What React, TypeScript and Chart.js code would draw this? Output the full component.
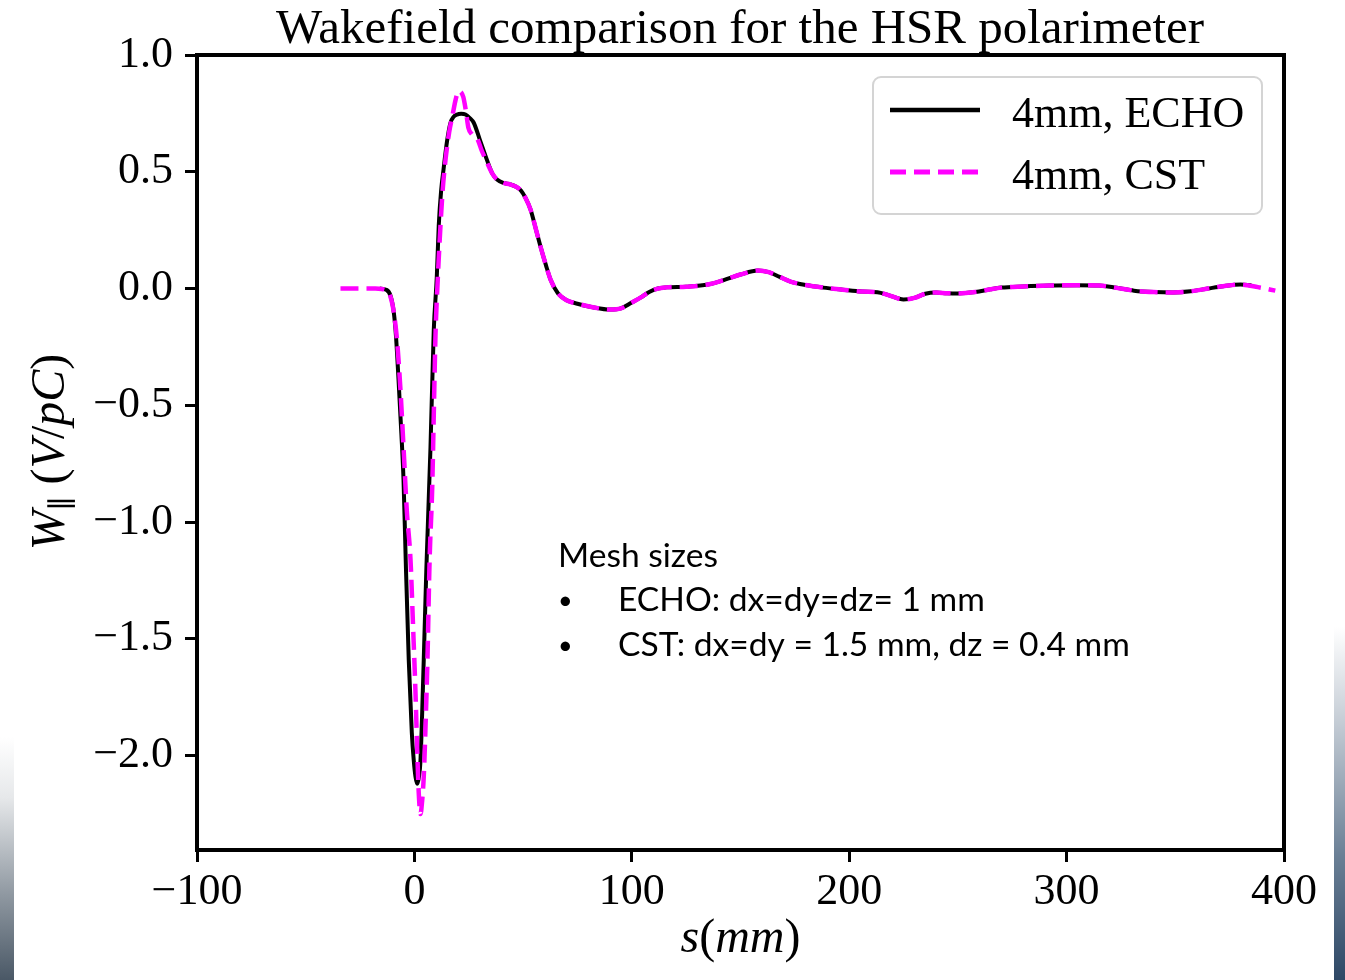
import React, { useEffect, useRef } from "react";
import { Chart, registerables } from "chart.js";

Chart.register(...registerables);

const TITLE = "Wakefield comparison for the HSR polarimeter";
const X_TICKS = [-100, 0, 100, 200, 300, 400];
const Y_TICKS = [1.0, 0.5, 0.0, -0.5, -1.0, -1.5, -2.0];
const LEGEND_LABELS = ["4mm, ECHO", "4mm, CST"];
const NOTE_LINES = ["Mesh sizes", "ECHO: dx=dy=dz= 1 mm", "CST: dx=dy = 1.5 mm, dz = 0.4 mm"];

const ECHO_S = [-16, -13, -11, -9.5, -8.5, -7.3, -6, -5, -4, -2.6, -1.2, -0.3, 0.5, 1.3, 2.1, 2.8, 4.3, 5.5, 7.4, 8.9, 10.3, 11.2, 12.3, 13.4, 15, 16.6, 18, 19.6, 21.5, 23.5, 25.5, 27.3, 30, 33.4, 36, 38, 41, 44, 47, 49, 51, 53.4, 56, 58, 60.5, 62.6, 66, 70, 75, 82, 90, 95, 100, 104, 108, 112, 116, 125, 135, 142, 150, 158, 163, 168, 173, 180, 188, 197, 206, 213, 218, 225, 230, 235, 240, 245, 250, 258, 265, 270, 280, 292, 305, 315, 323, 331, 340, 349, 357, 365, 372, 380, 385];
const ECHO_W = [0, -0.005, -0.03, -0.1, -0.2, -0.39, -0.62, -0.82, -1.16, -1.59, -1.9, -2.02, -2.09, -2.12, -2.09, -2.02, -1.59, -1.2, -0.68, -0.18, 0.05, 0.27, 0.42, 0.51, 0.63, 0.71, 0.735, 0.745, 0.748, 0.745, 0.73, 0.71, 0.64, 0.55, 0.49, 0.467, 0.452, 0.446, 0.435, 0.42, 0.39, 0.339, 0.25, 0.18, 0.1, 0.039, -0.02, -0.05, -0.065, -0.08, -0.09, -0.085, -0.06, -0.039, -0.015, 0.0, 0.005, 0.008, 0.017, 0.035, 0.06, 0.077, 0.07, 0.05, 0.03, 0.015, 0.004, -0.005, -0.013, -0.016, -0.028, -0.047, -0.04, -0.022, -0.017, -0.02, -0.021, -0.015, -0.003, 0.004, 0.009, 0.013, 0.014, 0.013, 0.003, -0.009, -0.015, -0.017, -0.012, 0.0, 0.01, 0.017, 0.014];

const CST_S = [-34, -25, -18, -15, -13, -11, -9.5, -8, -6.5, -5, -3.5, -1.8, -0.6, 0.5, 1.3, 2, 2.8, 3.5, 4.3, 5.2, 6, 7, 8.2, 9, 9.7, 10.8, 12, 13, 14.3, 16, 17.5, 19, 20.3, 21.5, 22.5, 23.7, 24.8, 26.5, 29, 31, 33.4, 36, 38, 41, 44, 47, 49, 51, 53.4, 56, 58, 60.5, 62.6, 66, 70, 75, 82, 90, 95, 100, 104, 108, 112, 116, 125, 135, 142, 150, 158, 163, 168, 173, 180, 188, 197, 206, 213, 218, 225, 230, 235, 240, 245, 250, 258, 265, 270, 280, 292, 305, 315, 323, 331, 340, 349, 357, 365, 372, 380, 388, 396];
const CST_W = [0, 0, 0, -0.002, -0.008, -0.035, -0.1, -0.22, -0.42, -0.68, -0.95, -1.16, -1.45, -1.73, -1.98, -2.16, -2.25, -2.2, -2.09, -1.85, -1.59, -1.16, -0.85, -0.5, -0.2, 0.05, 0.27, 0.42, 0.55, 0.67, 0.74, 0.81, 0.845, 0.84, 0.82, 0.76, 0.69, 0.66, 0.64, 0.59, 0.54, 0.49, 0.467, 0.452, 0.446, 0.435, 0.42, 0.39, 0.339, 0.25, 0.18, 0.1, 0.039, -0.02, -0.05, -0.065, -0.08, -0.09, -0.085, -0.06, -0.039, -0.015, 0.0, 0.005, 0.008, 0.017, 0.035, 0.06, 0.077, 0.07, 0.05, 0.03, 0.015, 0.004, -0.005, -0.013, -0.016, -0.028, -0.047, -0.04, -0.022, -0.017, -0.02, -0.021, -0.015, -0.003, 0.004, 0.009, 0.013, 0.014, 0.013, 0.003, -0.009, -0.015, -0.017, -0.012, 0.0, 0.01, 0.017, 0.006, -0.009];

const SERIF = '"Liberation Serif", "DejaVu Serif", serif';
const SANS = 'Lato, "Open Sans", sans-serif';
const ECHO_COLOR = "#000000";
const CST_COLOR = "#ff00ff";

const fmt = (v: number, d: number) => {
  const s = Math.abs(v).toFixed(d);
  return v < -1e-9 ? "\u2212" + s : s;
};

type Run = { t: string; font: string; dy?: number };
function drawRuns(ctx: CanvasRenderingContext2D, runs: Run[], x: number, y: number, align: "center" | "left") {
  const widths = runs.map((r) => {
    ctx.font = r.font;
    return ctx.measureText(r.t).width;
  });
  const total = widths.reduce((a, b) => a + b, 0);
  let cx = align === "center" ? x - total / 2 : x;
  ctx.textAlign = "left";
  runs.forEach((r, i) => {
    ctx.font = r.font;
    ctx.fillText(r.t, cx, y + (r.dy || 0));
    cx += widths[i];
  });
}

const decorPlugin = {
  id: "decor",
  afterDraw(chart: any) {
    const ctx: CanvasRenderingContext2D = chart.ctx;
    const a = chart.chartArea;
    ctx.save();
    // frame
    ctx.strokeStyle = "#000";
    ctx.lineWidth = 4;
    ctx.strokeRect(a.left, a.top, a.right - a.left, a.bottom - a.top);

    ctx.fillStyle = "#000";
    ctx.textBaseline = "alphabetic";
    // title
    ctx.font = `49px ${SERIF}`;
    ctx.textAlign = "center";
    ctx.fillText(TITLE, 740, 43);

    // x label
    drawRuns(
      ctx,
      [
        { t: "s", font: `italic 48px ${SERIF}` },
        { t: "(", font: `48px ${SERIF}` },
        { t: "mm", font: `italic 48px ${SERIF}` },
        { t: ")", font: `48px ${SERIF}` },
      ],
      (a.left + a.right) / 2,
      952,
      "center"
    );

    // y label
    ctx.save();
    ctx.translate(64, 452);
    ctx.rotate(-Math.PI / 2);
    drawRuns(
      ctx,
      [
        { t: "W", font: `italic 48px ${SERIF}` },
        { t: "\u2225", font: `30px ${SERIF}`, dy: 8 },
        { t: " (", font: `48px ${SERIF}` },
        { t: "V", font: `italic 48px ${SERIF}` },
        { t: "/", font: `48px ${SERIF}` },
        { t: "pC", font: `italic 48px ${SERIF}` },
        { t: ")", font: `48px ${SERIF}` },
      ],
      0,
      0,
      "center"
    );
    ctx.restore();

    // legend box
    const bx = 873, by = 77, bw = 389, bh = 137, r = 8;
    ctx.beginPath();
    ctx.moveTo(bx + r, by);
    ctx.arcTo(bx + bw, by, bx + bw, by + bh, r);
    ctx.arcTo(bx + bw, by + bh, bx, by + bh, r);
    ctx.arcTo(bx, by + bh, bx, by, r);
    ctx.arcTo(bx, by, bx + bw, by, r);
    ctx.closePath();
    ctx.fillStyle = "rgba(255,255,255,0.85)";
    ctx.fill();
    ctx.strokeStyle = "#d4d4d4";
    ctx.lineWidth = 2;
    ctx.stroke();

    ctx.lineCap = "butt";
    ctx.strokeStyle = ECHO_COLOR;
    ctx.lineWidth = 4.5;
    ctx.setLineDash([]);
    ctx.beginPath();
    ctx.moveTo(890, 110);
    ctx.lineTo(980, 110);
    ctx.stroke();

    ctx.strokeStyle = CST_COLOR;
    ctx.lineWidth = 5;
    ctx.setLineDash([16, 8]);
    ctx.beginPath();
    ctx.moveTo(890, 172);
    ctx.lineTo(980, 172);
    ctx.stroke();
    ctx.setLineDash([]);

    ctx.fillStyle = "#000";
    ctx.font = `44px ${SERIF}`;
    ctx.textAlign = "left";
    ctx.fillText(LEGEND_LABELS[0], 1012, 127);
    ctx.fillText(LEGEND_LABELS[1], 1012, 189);

    // annotation
    ctx.font = `36px ${SANS}`;
    const w36 = ctx.measureText(NOTE_LINES[2]).width;
    const fs = (36 * 512) / w36;
    ctx.font = `${fs.toFixed(2)}px ${SANS}`;
    ctx.fillText(NOTE_LINES[0], 558, 567);
    ctx.fillText(NOTE_LINES[1], 618, 611);
    ctx.fillText(NOTE_LINES[2], 618, 656);
    ctx.font = `${(fs * 0.75).toFixed(2)}px ${SANS}`;
    ctx.fillText("\u2022", 558, 609);
    ctx.fillText("\u2022", 558, 654);
    ctx.restore();
  },
};

export default function App() {
  const ref = useRef<HTMLCanvasElement | null>(null);
  useEffect(() => {
    if (!ref.current) return;
    const chart = new Chart(ref.current, {
      type: "line",
      data: {
        datasets: [
          {
            label: LEGEND_LABELS[0],
            data: ECHO_S.map((s, i) => ({ x: s, y: ECHO_W[i] })),
            borderColor: ECHO_COLOR,
            borderWidth: 4,
            pointRadius: 0,
            cubicInterpolationMode: "monotone",
            borderJoinStyle: "round",
            fill: false,
            order: 1,
          },
          {
            label: LEGEND_LABELS[1],
            data: CST_S.map((s, i) => ({ x: s, y: CST_W[i] })),
            borderColor: CST_COLOR,
            borderWidth: 4.5,
            borderDash: [18, 8],
            pointRadius: 0,
            cubicInterpolationMode: "monotone",
            borderJoinStyle: "round",
            fill: false,
            order: 0,
          },
        ],
      },
      options: {
        animation: false,
        responsive: false,
        maintainAspectRatio: false,
        layout: { padding: { top: 55, right: 61, left: 0, bottom: 0 } },
        plugins: {
          legend: { display: false },
          title: { display: false },
          tooltip: { enabled: false },
        },
        scales: {
          x: {
            type: "linear",
            min: -100,
            max: 400,
            afterBuildTicks: (s: any) => {
              s.ticks = X_TICKS.map((v) => ({ value: v }));
            },
            afterFit: (s: any) => {
              s.height = 130;
            },
            ticks: {
              callback: (v: any) => fmt(Number(v), 0),
              font: { family: SERIF, size: 44 },
              color: "#000",
              padding: 4,
              maxRotation: 0,
              autoSkip: false,
            },
            grid: { drawOnChartArea: false, drawTicks: true, tickLength: 12, tickWidth: 3, tickColor: "#000" },
            border: { display: true, color: "#000", width: 4 },
          },
          y: {
            type: "linear",
            min: -2.404,
            max: 1.0,
            afterBuildTicks: (s: any) => {
              s.ticks = Y_TICKS.map((v) => ({ value: v }));
            },
            afterFit: (s: any) => {
              s.width = 197;
            },
            ticks: {
              callback: (v: any) => fmt(Number(v), 1),
              font: { family: SERIF, size: 44 },
              color: "#000",
              padding: 12,
              autoSkip: false,
            },
            grid: { drawOnChartArea: false, drawTicks: true, tickLength: 12, tickWidth: 3, tickColor: "#000" },
            border: { display: true, color: "#000", width: 4 },
          },
        },
      } as any,
      plugins: [decorPlugin],
    });
    return () => chart.destroy();
  }, []);

  return (
    <div style={{ position: "fixed", left: 0, top: 0, width: 1345, height: 980, background: "#fff" }}>
      <canvas ref={ref} width={1345} height={980} style={{ display: "block", width: 1345, height: 980 }} />
      <div
        style={{
          position: "absolute",
          left: 0,
          top: 737,
          width: 14,
          height: 243,
          background: "linear-gradient(to bottom, #ffffff, #e6e8ea 25%, #8f98a1 65%, #4a5866)",
        }}
      />
      <div
        style={{
          position: "absolute",
          left: 1334,
          top: 627,
          width: 11,
          height: 353,
          background: "linear-gradient(to bottom, #ffffff, #c9d0d8 25%, #6a7f95 65%, #2e4866)",
        }}
      />
    </div>
  );
}
